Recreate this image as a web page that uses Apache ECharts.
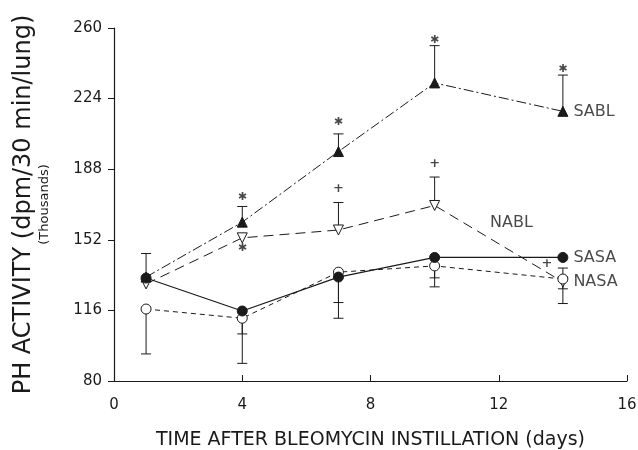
<!DOCTYPE html>
<html>
<head>
<meta charset="utf-8">
<script src="https://cdn.jsdelivr.net/npm/echarts@6/dist/echarts.min.js"></script>
<style>
  html, body { margin: 0; padding: 0; background: #fff; }
  #chart { width: 638px; height: 450px; }
</style>
</head>
<body>
<div id="chart"></div>
<script>
// days after bleomycin instillation
var days = [1, 4, 7, 10, 14];

// PH activity (thousands of dpm/30 min/lung)
var sabl = [133, 161, 197, 232, 217.5];
var nabl = [129.5, 153, 157, 169.5, 130.5];
var sasa = [132.5, 115.7, 133, 143, 143];
var nasa = [116.7, 112, 135.5, 138.7, 132];

// error bars: [day, from, to] (cap drawn at "to")
var errorBars = [
    [4, 161, 169], [7, 197, 206], [10, 232, 251], [14, 217.5, 236],
    [7, 157, 171], [10, 169.5, 184],
    [1, 132.5, 145], [1, 116.7, 93.8],
    [4, 112, 104], [4, 112, 89],
    [7, 133, 120], [7, 133, 112],
    [10, 138.7, 132.6], [10, 138.7, 128],
    [14, 132, 137.6], [14, 130.5, 127], [14, 130.5, 119.5]
];

// significance marks: [day, value]
var stars = [[4, 174], [7, 212], [10, 254], [14, 239], [4, 148]];
var plusses = [[7, 178], [10, 191], [13.5, 140]];

// group labels: [day, value, text]
var groupLabels = [
    [14, 217, 'SABL'],
    [11.4, 160.5, 'NABL'],
    [14, 143, 'SASA'],
    [14, 130.5, 'NASA']
];

var ink = '#1a1a1a';
var font = 'DejaVu Sans';

function zip(xs, ys) {
    return xs.map(function (x, i) { return [x, ys[i]]; });
}

// invisible anchor point carrying a text label
function textSeries(name, data, label) {
    return {
        name: name, type: 'scatter', data: data, z: 5,
        symbol: 'circle', symbolSize: 1,
        itemStyle: { color: 'rgba(0,0,0,0)' },
        label: Object.assign({ show: true, fontFamily: font, color: ink }, label)
    };
}

var chart = echarts.init(document.getElementById('chart'));

var option = {
    backgroundColor: '#fff',
    animation: false,
    grid: { left: 114, right: 11, top: 28, bottom: 69, outerBoundsMode: 'none' },
    xAxis: {
        type: 'value',
        min: 0, max: 16, interval: 4,
        name: 'TIME AFTER BLEOMYCIN INSTILLATION (days)',
        nameLocation: 'middle',
        nameGap: 50,
        nameTextStyle: { fontFamily: font, fontSize: 19, color: ink },
        axisLine: { lineStyle: { color: ink, width: 1.2 } },
        axisTick: { inside: true, length: 6, lineStyle: { color: ink } },
        axisLabel: { fontFamily: font, fontSize: 15, color: ink, margin: 17 },
        splitLine: { show: false }
    },
    yAxis: {
        type: 'value',
        min: 80, max: 260, interval: 36,
        name: '{a|PH ACTIVITY (dpm/30 min/lung)}\n{b|(Thousands)}',
        nameLocation: 'middle',
        nameRotate: 90,
        nameGap: 61,
        nameTextStyle: {
            rich: {
                a: { fontFamily: font, fontSize: 24, color: ink, lineHeight: 26 },
                b: { fontFamily: font, fontSize: 13, color: ink, lineHeight: 16 }
            }
        },
        axisLine: { show: true, lineStyle: { color: ink, width: 1.2 } },
        axisTick: { show: true, length: 6, lineStyle: { color: ink } },
        axisLabel: { fontFamily: font, fontSize: 15, color: ink, margin: 12 },
        splitLine: { show: false }
    },
    series: [
        {
            name: 'errors',
            type: 'custom',
            data: errorBars,
            z: 1,
            renderItem: function (params, api) {
                var p0 = api.coord([api.value(0), api.value(1)]);
                var p1 = api.coord([api.value(0), api.value(2)]);
                var w = 5;
                return {
                    type: 'group',
                    children: [
                        { type: 'line', shape: { x1: p0[0], y1: p0[1], x2: p1[0], y2: p1[1] },
                          style: { stroke: ink, lineWidth: 1 } },
                        { type: 'line', shape: { x1: p1[0] - w, y1: p1[1], x2: p1[0] + w, y2: p1[1] },
                          style: { stroke: ink, lineWidth: 1 } }
                    ]
                };
            }
        },
        {
            name: 'SABL', type: 'line', data: zip(days, sabl), z: 3,
            symbol: 'triangle', symbolSize: 10,
            itemStyle: { color: ink, borderColor: ink },
            lineStyle: { color: ink, width: 1, type: [10, 3, 2, 3] }
        },
        {
            name: 'NABL', type: 'line', data: zip(days, nabl), z: 3,
            symbol: 'triangle', symbolRotate: 180, symbolSize: 10,
            itemStyle: { color: '#fff', borderColor: ink, borderWidth: 1 },
            lineStyle: { color: ink, width: 1, type: [10, 6] }
        },
        {
            name: 'SASA', type: 'line', data: zip(days, sasa), z: 4,
            symbol: 'circle', symbolSize: 10,
            itemStyle: { color: ink, borderColor: ink },
            lineStyle: { color: ink, width: 1.2, type: 'solid' }
        },
        {
            name: 'NASA', type: 'line', data: zip(days, nasa), z: 3,
            symbol: 'circle', symbolSize: 10,
            itemStyle: { color: '#fff', borderColor: ink, borderWidth: 1 },
            lineStyle: { color: ink, width: 1, type: [5, 4] }
        },
        textSeries('stars', stars, { position: 'inside', formatter: '\u2731', fontSize: 11, fontWeight: 'bold' }),
        textSeries('plusses', plusses, { position: 'inside', formatter: '+', fontSize: 13, fontWeight: 'bold' }),
        textSeries('groupLabels', groupLabels, {
            position: 'right', distance: 10, fontSize: 16,
            formatter: function (p) { return p.value[2]; }
        })
    ]
};

chart.setOption(option);
</script>
</body>
</html>
